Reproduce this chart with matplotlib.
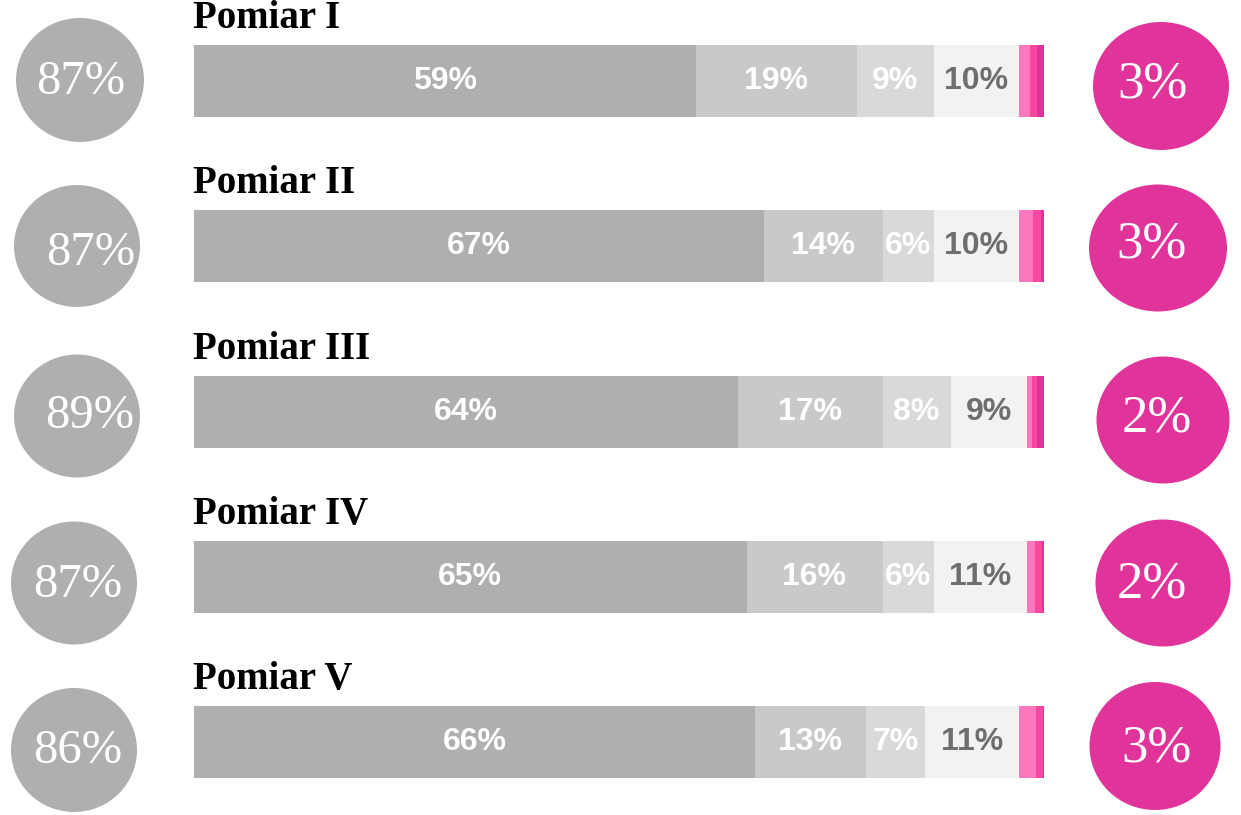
import matplotlib.pyplot as plt
from matplotlib.patches import Ellipse

# measurement names and shares (%) of each answer group
rows = ["Pomiar I", "Pomiar II", "Pomiar III", "Pomiar IV", "Pomiar V"]
grey_a = [59, 67, 64, 65, 66]
grey_b = [19, 14, 17, 16, 13]
grey_c = [9, 6, 8, 6, 7]
grey_d = [10, 10, 9, 11, 11]
pink_a = [1.3, 1.7, 0.64, 0.9, 2.0]
pink_b = [0.9, 1.0, 0.56, 0.9, 0.85]
pink_c = [0.8, 0.3, 0.8, 0.2, 0.15]
left_totals = [87, 87, 89, 87, 86]
right_totals = [3, 3, 2, 2, 3]

W, H = 1241, 815
fig = plt.figure(figsize=(W / 100, H / 100), dpi=100)
fig.patch.set_facecolor("white")

# stacked bars, x in percent
bx0, bx1 = 194, 1044
ax = fig.add_axes([bx0 / W, 0, (bx1 - bx0) / W, 1])
ax.set_xlim(0, 100)
ax.set_ylim(H, 0)
ax.axis("off")

bar_h = 72
ys = [81 + i * 165.3 for i in range(len(rows))]

segments = [grey_a, grey_b, grey_c, grey_d, pink_a, pink_b, pink_c]
colors = ["#afafaf", "#c9c9c9", "#d9d9d9", "#f2f2f2", "#ff78bd", "#f8479f", "#e0339a"]
text_colors = ["white", "white", "white", "#6e6e6e"]

left = [0] * len(rows)
for k, (vals, col) in enumerate(zip(segments, colors)):
    ax.barh(ys, vals, left=left, height=bar_h, color=col, edgecolor="none")
    if k < 4:
        for y, l, v in zip(ys, left, vals):
            ax.text(l + v / 2, y, f"{v}%", ha="center", va="center",
                    fontsize=23, fontweight="bold", family="Liberation Sans",
                    color=text_colors[k])
    left = [l + v for l, v in zip(left, vals)]

for y, name in zip(ys, rows):
    ax.text(-0.1, y - bar_h / 2 - 17, name, ha="left", va="baseline",
            fontsize=28, fontweight="bold", family="Liberation Serif",
            color="black")

# circles on both sides, in pixel coordinates
ov = fig.add_axes([0, 0, 1, 1])
ov.set_xlim(0, W)
ov.set_ylim(H, 0)
ov.axis("off")

left_circ = [(80, 80, 128, 124), (77, 246, 126, 122), (77, 416, 126, 123),
             (74, 583, 126, 123), (74, 750, 126, 124)]
left_txt = [(81, 94), (91, 265), (90, 428), (78, 597), (78, 763)]
right_circ = [(1161, 86, 136, 128), (1158, 248, 138, 127), (1163, 420, 133, 127),
              (1163, 583, 135, 127), (1155, 746, 131, 128)]
right_txt = [(1152, 98), (1151, 258), (1157, 431), (1152, 597), (1156, 762)]

for (cx, cy, w, h), (tx, ty), v in zip(left_circ, left_txt, left_totals):
    ov.add_patch(Ellipse((cx, cy), w, h, color="#afafaf", lw=0))
    ov.text(tx, ty, f"{v}%", ha="center", va="baseline", fontsize=35,
            family="Liberation Serif", color="white")

for (cx, cy, w, h), (tx, ty), v in zip(right_circ, right_txt, right_totals):
    ov.add_patch(Ellipse((cx, cy), w, h, color="#e0349b", lw=0))
    ov.text(tx, ty, f"{v}%", ha="center", va="baseline", fontsize=38,
            family="Liberation Serif", color="white")

fig.savefig("out.png", dpi=100, facecolor="white")
